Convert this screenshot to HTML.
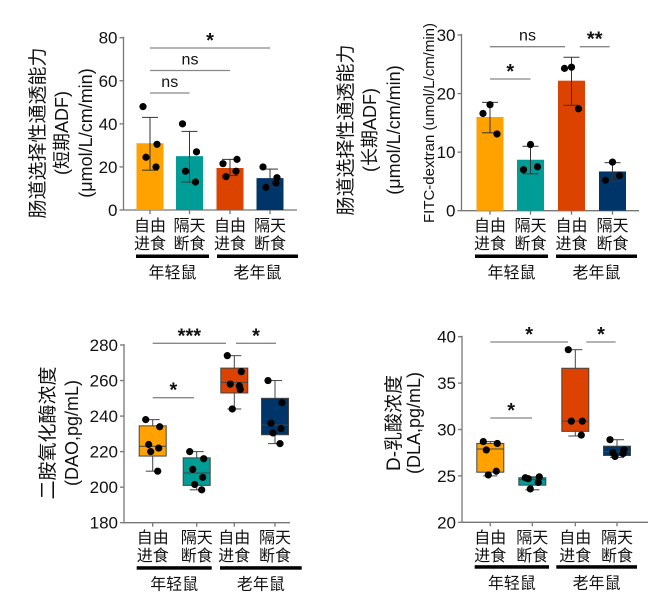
<!DOCTYPE html>
<html><head><meta charset="utf-8">
<style>
html,body{margin:0;padding:0;background:#fff;}
svg{display:block;font-family:"Liberation Sans","Noto Sans CJK SC",sans-serif;}
</style></head>
<body>
<svg id="c" width="666" height="607" viewBox="0 0 666 607"></svg>
<script>
// ---------- data ----------
const groupLabels = ["自由|进食","隔天|断食","自由|进食","隔天|断食"];
const ageLabels = ["年轻鼠","老年鼠"];
// Panel 1 (short-term ADF)
const p1Ticks = [0,20,40,60,80];
const p1Means = [31,25,19.5,14.8];
const p1ErrHi = [43,36.5,23.5,19];
const p1ErrLo = [18.5,13,16,10.5];
const p1Points = [[48,30.5,24.5,20],[40,27,18,13],[21.5,23.5,15.5,18],[20,15,10.5,12.5]];
// Panel 2 (long-term ADF)
const p2Ticks = [0,10,20,30];
const p2Means = [16,8.7,22.2,6.7];
const p2ErrHi = [18.5,11,26.2,8.2];
const p2ErrLo = [13.3,6.3,18,5];
const p2Points = [[18.1,16.6,13.1],[11.3,7,7.5],[24.5,24.3,17.4],[8.3,5.2,6]];
// Panel 3 (DAO)
const p3Ticks = [180,200,220,240,260,280];
const p3Q1 = [217.5,201,253,229.5];
const p3Q3 = [234.5,216.5,267,250];
const p3Med = [223,208,259,235];
const p3Min = [209,198.5,244,224.5];
const p3Max = [238,220,274,260];
const p3Points = [[238,234,224,222,220,209],[220,216,210,205.5,201.5,198.5],[274,265,258,255,244,257],[260,247.5,236,233,230.5,224.5]];
// Panel 4 (DLA)
const p4Ticks = [20,25,30,35,40];
const p4Q1 = [25.4,24,29.8,27.2];
const p4Q3 = [28.5,24.8,36.6,28.2];
const p4Med = [27.9,24.6,30.9,27.6];
const p4Min = [25,23.5,29.3,27];
const p4Max = [28.7,24.9,38.6,28.9];
const p4Points = [[28.7,28.5,27.8,25.5,25.1],[24.8,24.9,24.7,24.3,23.6],[38.6,30.9,30.9,29.4],[28.9,27.8,27.5,27.4,27.1]];

const colors = ["#FFA200","#009C96","#DD4300","#00356A"];
const svg = document.getElementById('c');
const NS = "http://www.w3.org/2000/svg";
function el(tag, attrs, parent){
  const e = document.createElementNS(NS, tag);
  for (const k in attrs) e.setAttribute(k, attrs[k]);
  (parent||svg).appendChild(e);
  return e;
}
function txt(x,y,s,size,anchor,parent,extra){
  const t = el('text',Object.assign({x:x,y:y,'font-size':size,'text-anchor':anchor||'middle',fill:'#111'},extra||{}),parent);
  t.textContent = s;
  return t;
}
function jitter(i,n){ const base=[-7,7,-4,6,-2,5]; return n<=3 ? [0,-7,7][i] : base[i%base.length]; }

function panel(cfg){
  const g = el('g',{});
  
  
  const {ax, y0, y1, vmin, vmax, xEnd, centers, ticks} = cfg;
  const Y = v => y0 + (v - vmin) / (vmax - vmin) * (y1 - y0);
  const yAxis = el('line',{x1:ax,y1:Y(vmax)-1,x2:ax,y2:y0,stroke:'#777','stroke-width':1.3},g);
  
  
  const xAxis = el('line',{x1:ax,y1:y0,x2:xEnd,y2:y0,stroke:'#777','stroke-width':1.3},g);
  
  
  ticks.forEach(v=>{
    el('line',{x1:ax-4,y1:Y(v),x2:ax,y2:Y(v),stroke:'#777','stroke-width':1.3},g);
    const t = txt(ax-6,Y(v)+6,String(v),17,'end',g);
    
    
  });
  centers.forEach(cx=> el('line',{x1:cx,y1:y0,x2:cx,y2:y0+4,stroke:'#777','stroke-width':1.3},g));
  const bw = 27;
  for (let i=0;i<4;i++){
    const cx = centers[i];
    if (cfg.type==='bar'){
      const r = el('rect',{x:cx-bw/2,y:Y(cfg.means[i]),width:bw,height:y0-Y(cfg.means[i]),fill:colors[i]},g);
      
      
      el('line',{x1:cx,y1:Y(cfg.hi[i]),x2:cx,y2:Y(cfg.lo[i]),stroke:'#333','stroke-width':1},g);
      el('line',{x1:cx-8,y1:Y(cfg.hi[i]),x2:cx+8,y2:Y(cfg.hi[i]),stroke:'#333','stroke-width':1},g);
      el('line',{x1:cx-8,y1:Y(cfg.lo[i]),x2:cx+8,y2:Y(cfg.lo[i]),stroke:'#333','stroke-width':1},g);
    } else {
      el('line',{x1:cx,y1:Y(cfg.max[i]),x2:cx,y2:Y(cfg.min[i]),stroke:'#444','stroke-width':1},g);
      el('line',{x1:cx-7,y1:Y(cfg.max[i]),x2:cx+7,y2:Y(cfg.max[i]),stroke:'#444','stroke-width':1},g);
      el('line',{x1:cx-7,y1:Y(cfg.min[i]),x2:cx+7,y2:Y(cfg.min[i]),stroke:'#444','stroke-width':1},g);
      const r = el('rect',{x:cx-bw/2,y:Y(cfg.q3[i]),width:bw,height:Y(cfg.q1[i])-Y(cfg.q3[i]),fill:colors[i],stroke:'#444','stroke-width':1},g);
      
      
      el('line',{x1:cx-bw/2,y1:Y(cfg.med[i]),x2:cx+bw/2,y2:Y(cfg.med[i]),stroke:'#444','stroke-width':1},g);
    }
    const pts = cfg.points[i];
    pts.forEach((v,k)=>{
      const c = el('circle',{cx:cx+jitter(k,pts.length),cy:Y(v),r:3.6,fill:'#000'},g);
      
      
    });
    const parts = groupLabels[i].split('|');
    txt(cx,cfg.labY,parts[0],16,'middle',g);
    txt(cx,cfg.labY+18,parts[1],16,'middle',g);
  }
  cfg.groups.forEach((gr,k)=>{
    const r = el('rect',{x:gr[0],y:cfg.gbarY-1.5,width:gr[1]-gr[0],height:3.5,fill:'#000'},g);
    
    
    const t = txt((gr[0]+gr[1])/2,cfg.gbarY+22,ageLabels[k],16,'middle',g);
    
    
  });
  cfg.sig.forEach(s=>{
    const yy = s[2];
    const x1 = s[5]!==undefined ? s[5] : centers[s[0]];
    const x2 = s[3]!==undefined ? s[3] : centers[s[1]];
    const l = el('line',{x1:x1,y1:yy,x2:x2,y2:yy,stroke:'#888','stroke-width':1.3},g);
    
    
    const isStar = s[4].indexOf('*')>=0;
    const t = txt((x1+x2)/2, isStar? yy-1 : yy-6, s[4], isStar?20:16,'middle',g, isStar?{'font-weight':'bold'}:{});
    
    
  });
  cfg.titles.forEach(tt=>{
    const t = txt(0,0,tt[2],tt[3],'middle',g,{transform:`translate(${tt[0]},${tt[1]}) rotate(-90)`});
    
    
  });
}

panel({name:'chart-short-adf',type:'bar',ax:123.5,y0:210,y1:37.7,vmin:0,vmax:80,xEnd:297,
  centers:[150,189.5,230,270],ticks:p1Ticks,means:p1Means,hi:p1ErrHi,lo:p1ErrLo,points:p1Points,
  labY:231,gbarY:256,groups:[[136,209],[217,298]],
  sig:[[0,3,48,undefined,'*'],[0,2,70.5,undefined,'ns'],[0,1,93,undefined,'ns']],
  titles:[[44,133,'肠道选择性通透能力',19],[68,133,'(短期ADF)',18],[92,133,'(μmol/L/cm/min)',18]]});

panel({name:'chart-long-adf',type:'bar',ax:461.5,y0:210.7,y1:35,vmin:0,vmax:30,xEnd:639,
  centers:[490,530.5,571.5,612.5],ticks:p2Ticks,means:p2Means,hi:p2ErrHi,lo:p2ErrLo,points:p2Points,
  labY:231,gbarY:256,groups:[[475,548],[556,637]],
  sig:[[0,2,46.7,565,'ns'],[2,3,46.7,609.7,'**',579.7],[0,1,79,undefined,'*']],
  titles:[[352,130,'肠道选择性通透能力',19],[376,130,'(长期ADF)',18],[400,130,'(μmol/L/cm/min)',18],[434,123,'FITC-dextran (umol/L/cm/min)',15]]});

panel({name:'chart-dao',type:'box',ax:124,y0:522.7,y1:345,vmin:180,vmax:280,xEnd:290,
  centers:[152.7,196.7,234.3,275],ticks:p3Ticks,q1:p3Q1,q3:p3Q3,med:p3Med,min:p3Min,max:p3Max,points:p3Points,
  labY:543,gbarY:567.7,groups:[[136.7,211.7],[220,301.7]],
  sig:[[0,2,343.3,226,'***'],[2,3,343.3,276,'*',236],[0,1,397.7,194,'*']],
  titles:[[54,433,'二胺氧化酶浓度',19],[78,433,'(DAO,pg/mL)',18]]});

panel({name:'chart-dla',type:'box',ax:462,y0:522.3,y1:336.7,vmin:20,vmax:40,xEnd:648,
  centers:[490.3,532.3,575.3,617],ticks:p4Ticks,q1:p4Q1,q3:p4Q3,med:p4Med,min:p4Min,max:p4Max,points:p4Points,
  labY:543,gbarY:566.7,groups:[[474.7,549],[556.3,637]],
  sig:[[0,2,342,568,'*'],[2,3,342,615.7,'*',586.3],[0,1,418,532,'*']],
  titles:[[400,423,'D-乳酸浓度',19],[420,423,'(DLA,pg/mL)',18]]});
</script>
</body></html>
